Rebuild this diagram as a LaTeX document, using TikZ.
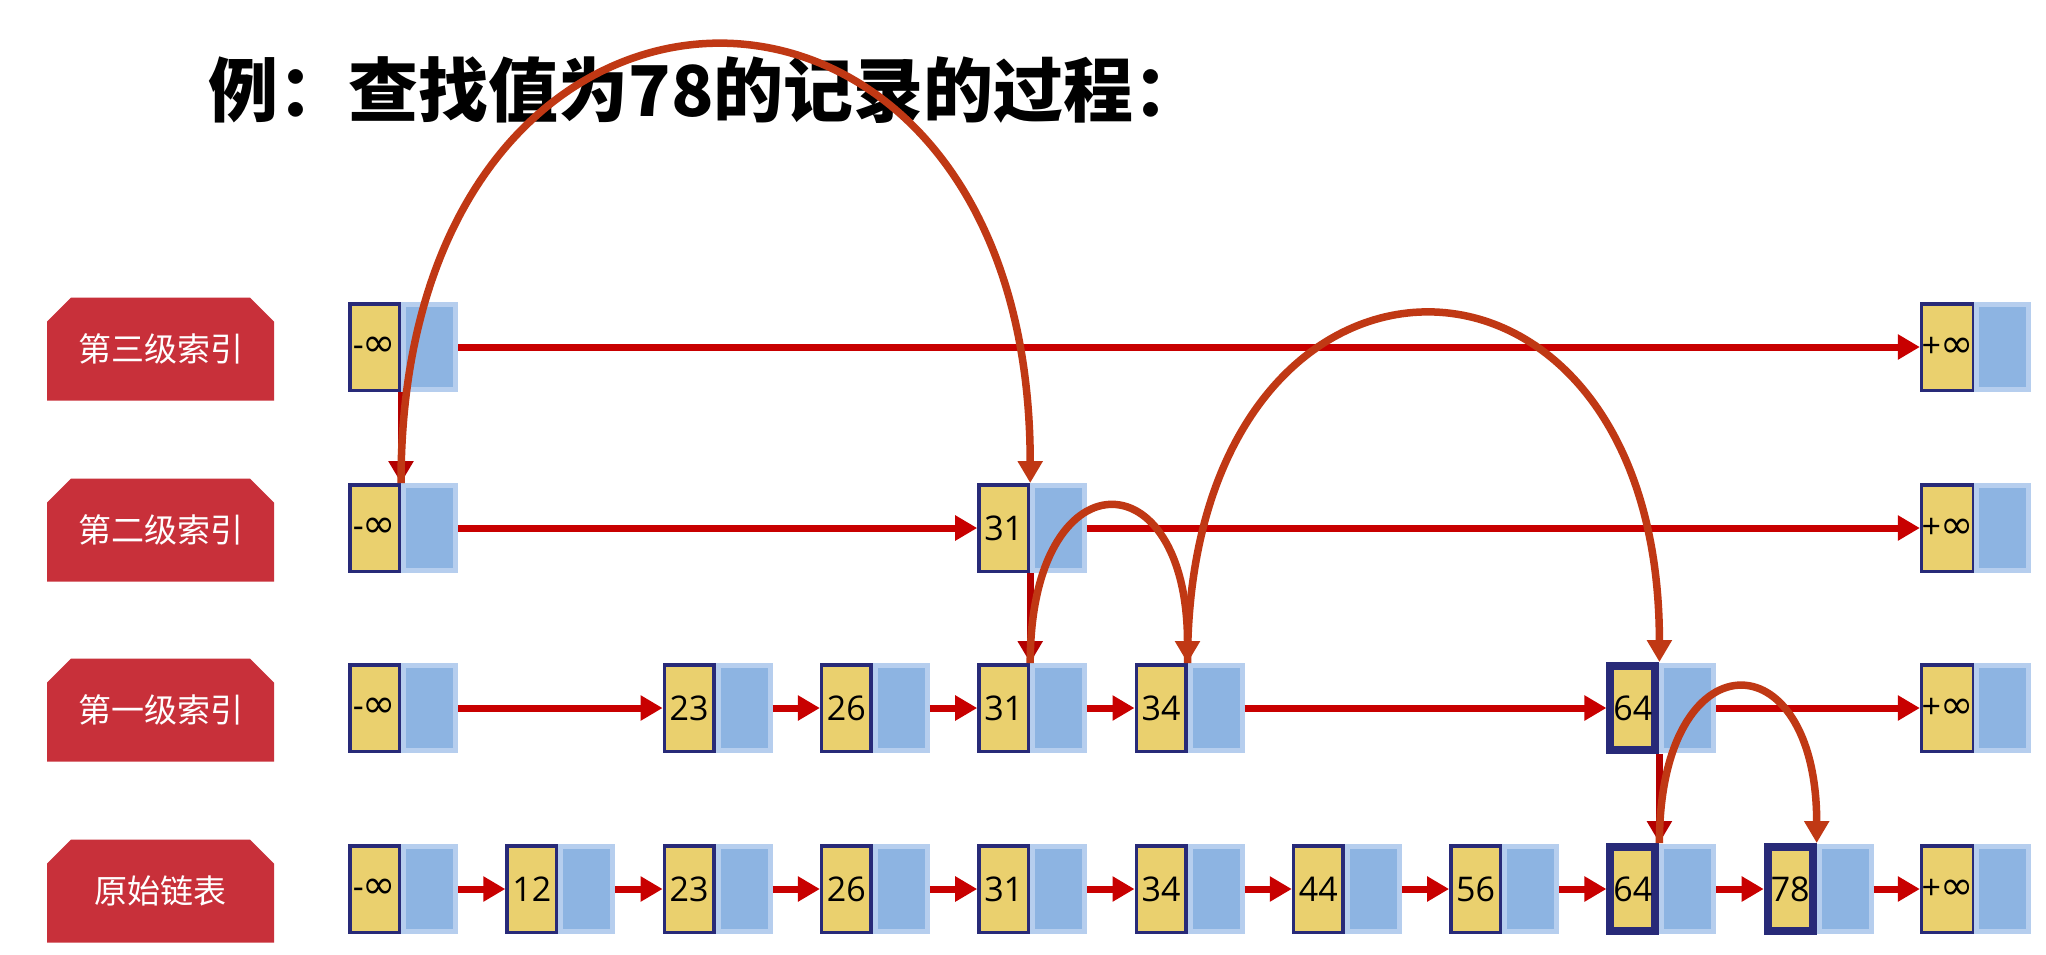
\documentclass[tikz,border=0pt]{standalone}
\usepackage{fontspec}
\usetikzlibrary{arrows.meta,shapes.misc}
\newfontfamily\cjk{Noto Sans CJK SC}
\newfontfamily\numfont{Open Sans}
\newfontfamily\symfont{DejaVu Sans}
\definecolor{labelred}{RGB}{200,48,58}
\definecolor{cellyellow}{RGB}{234,208,110}
\definecolor{navy}{RGB}{40,42,120}
\definecolor{lightblue}{RGB}{182,206,238}
\definecolor{innerblue}{RGB}{141,180,226}
\definecolor{arrowred}{RGB}{200,0,0}
\definecolor{curvered}{RGB}{192,56,20}
\definecolor{dropred}{RGB}{180,0,0}
\newcommand\minusinf{{\numfont -}\kern-1pt{\symfont\fontsize{40}{44}\selectfont ∞}}
\newcommand\plusinf{{\numfont +}\kern-1pt{\symfont\fontsize{40}{44}\selectfont ∞}}
\newcommand\cellpair[5]{%
  \node[ybox,#5] (#1y) at ({348+157.3*#2+26.5},#3) {#4};
  \node[bbox] (#1b) at ({348+157.3*#2+81.5},#3) {};}
\begin{document}
\begin{tikzpicture}[x=1pt,y=-1pt,
  ybox/.style={draw=navy, fill=cellyellow, line width=3.5pt, minimum width=49.5pt, minimum height=86.5pt, inner sep=0pt,
    font=\numfont\fontsize{34}{40}\selectfont},
  hl/.style={line width=8pt, minimum width=45pt, minimum height=84pt},
  bbox/.style={draw=lightblue, fill=innerblue, line width=5pt, minimum width=52pt, minimum height=85pt, inner sep=0pt},
  levellabel/.style={chamfered rectangle, chamfered rectangle corners={north west,north east},
    chamfered rectangle xsep=12pt, chamfered rectangle ysep=12pt,
    minimum width=227pt, minimum height=103pt, fill=labelred, text=white, inner sep=0pt,
    font=\cjk\fontsize{33}{38}\selectfont},
  rowarrow/.style={draw=arrowred, line width=7pt, -{Triangle[length=22pt,width=24pt]}},
  droparrow/.style={draw=dropred, line width=7pt, -{Triangle[length=22pt,width=24pt]}},
  curvearrow/.style={draw=curvered, line width=7.5pt, -{Triangle[length=22pt,width=24pt]}}
]
\useasboundingbox[fill=white] (0,0) rectangle (2046,954);

\node[anchor=west, font=\cjk\bfseries\fontsize{70}{84}\selectfont] (title) at (205,90) {例：查找值为78的记录的过程：};

\node[levellabel] (l3) at (160.5,349) {第三级索引};
\node[levellabel] (l2) at (160.5,530) {第二级索引};
\node[levellabel] (l1) at (160.5,710) {第一级索引};
\node[levellabel] (l0) at (160.5,891) {原始链表};

% level 3
\cellpair{r3m}{0}{347}{\minusinf}{}
\cellpair{r3p}{10}{347}{\plusinf}{}
% level 2
\cellpair{r2m}{0}{528}{\minusinf}{}
\cellpair{r2a}{4}{528}{31}{}
\cellpair{r2p}{10}{528}{\plusinf}{}
% level 1
\cellpair{r1m}{0}{708}{\minusinf}{}
\cellpair{r1a}{2}{708}{23}{}
\cellpair{r1b}{3}{708}{26}{}
\cellpair{r1c}{4}{708}{31}{}
\cellpair{r1d}{5}{708}{34}{}
\cellpair{r1e}{8}{708}{64}{hl}
\cellpair{r1p}{10}{708}{\plusinf}{}
% level 0
\cellpair{r0m}{0}{889}{\minusinf}{}
\cellpair{r0a}{1}{889}{12}{}
\cellpair{r0b}{2}{889}{23}{}
\cellpair{r0c}{3}{889}{26}{}
\cellpair{r0d}{4}{889}{31}{}
\cellpair{r0e}{5}{889}{34}{}
\cellpair{r0f}{6}{889}{44}{}
\cellpair{r0g}{7}{889}{56}{}
\cellpair{r0h}{8}{889}{64}{hl}
\cellpair{r0i}{9}{889}{78}{hl}
\cellpair{r0p}{10}{889}{\plusinf}{}

% horizontal links
\draw[rowarrow] (r3mb.east) -- (r3py.west);
\draw[rowarrow] (r2mb.east) -- (r2ay.west);
\draw[rowarrow] (r2ab.east) -- (r2py.west);
\draw[rowarrow] (r1mb.east) -- (r1ay.west);
\draw[rowarrow] (r1ab.east) -- (r1by.west);
\draw[rowarrow] (r1bb.east) -- (r1cy.west);
\draw[rowarrow] (r1cb.east) -- (r1dy.west);
\draw[rowarrow] (r1db.east) -- (r1ey.west);
\draw[rowarrow] (r1eb.east) -- (r1py.west);
\draw[rowarrow] (r0mb.east) -- (r0ay.west);
\draw[rowarrow] (r0ab.east) -- (r0by.west);
\draw[rowarrow] (r0bb.east) -- (r0cy.west);
\draw[rowarrow] (r0cb.east) -- (r0dy.west);
\draw[rowarrow] (r0db.east) -- (r0ey.west);
\draw[rowarrow] (r0eb.east) -- (r0fy.west);
\draw[rowarrow] (r0fb.east) -- (r0gy.west);
\draw[rowarrow] (r0gb.east) -- (r0hy.west);
\draw[rowarrow] (r0hb.east) -- (r0iy.west);
\draw[rowarrow] (r0ib.east) -- (r0py.west);

% drops
\draw[droparrow] (r3my.south east) -- (r2my.north east);
\draw[droparrow] (r2ay.south east) -- (r1cy.north east);
\draw[droparrow] (r1ey.south east) -- (r0hy.north east);

% search jumps
\draw[curvearrow] (r2my.north east) .. controls ([yshift=583pt]r2my.north east) and ([yshift=583pt]r2ay.north east) .. (r2ay.north east);
\draw[curvearrow] (r1cy.north east) .. controls ([yshift=208pt]r1cy.north east) and ([yshift=208pt]r1dy.north east) .. (r1dy.north east);
\draw[curvearrow] (r1dy.north east) .. controls ([yshift=464pt]r1dy.north east) and ([yshift=464pt]r1ey.north east) .. (r1ey.north east);
\draw[curvearrow] (r0hy.north east) .. controls ([yshift=207pt]r0hy.north east) and ([yshift=207pt]r0iy.north east) .. (r0iy.north east);
\end{tikzpicture}
\end{document}
